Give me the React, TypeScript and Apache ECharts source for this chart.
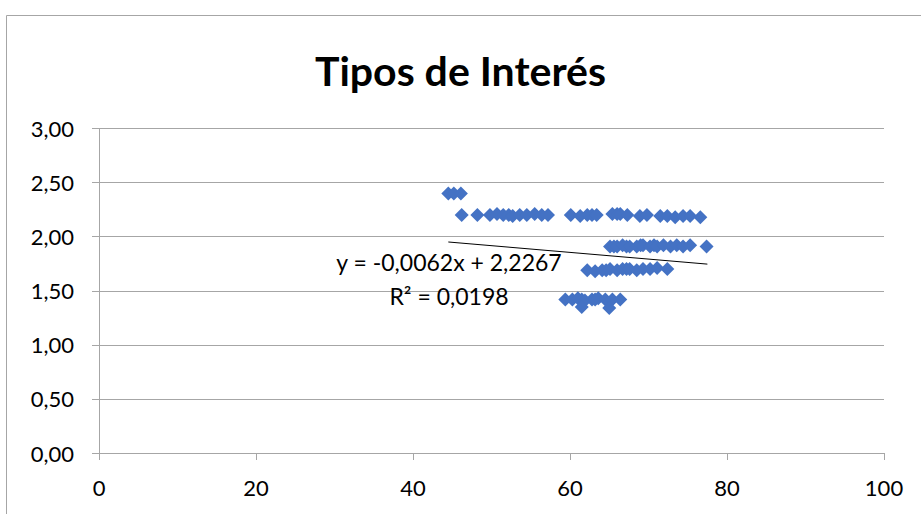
import React, { useEffect, useRef } from "react";
import * as echarts from "echarts";

// Data rows (x values per approximate interest-rate level)
const row240X = [44.5, 45.2, 46.1];
const row240Y = [2.4, 2.4, 2.4];
const row220X = [46.2, 48.2, 49.8, 50.7, 51.5, 52.2, 52.7, 53.6, 54.5, 55.5, 56.4, 57.2, 60.1, 61.3, 62.2, 62.8, 63.4, 65.4, 66.0, 66.4, 67.3, 68.9, 69.8, 71.5, 72.4, 73.4, 74.4, 75.3, 76.6];
const row220Y = [2.2, 2.2, 2.2, 2.21, 2.2, 2.2, 2.19, 2.2, 2.2, 2.21, 2.2, 2.2, 2.2, 2.19, 2.2, 2.2, 2.2, 2.21, 2.21, 2.21, 2.2, 2.19, 2.2, 2.19, 2.19, 2.18, 2.19, 2.19, 2.18];
const row192X = [65.1, 65.6, 66.0, 66.7, 67.2, 67.6, 68.5, 69.0, 69.3, 70.2, 70.7, 71.1, 71.9, 72.8, 73.6, 74.4, 75.3, 77.4];
const row192Y = [1.91, 1.91, 1.91, 1.92, 1.91, 1.91, 1.91, 1.92, 1.92, 1.91, 1.92, 1.91, 1.92, 1.91, 1.92, 1.91, 1.92, 1.91];
const row170X = [62.2, 63.2, 64.1, 64.6, 65.1, 66.0, 66.7, 67.2, 67.6, 68.5, 69.3, 70.2, 71.1, 72.4];
const row170Y = [1.69, 1.68, 1.69, 1.69, 1.7, 1.69, 1.7, 1.7, 1.7, 1.69, 1.7, 1.7, 1.71, 1.7];
const row142X = [59.4, 60.3, 61.0, 61.5, 61.9, 62.8, 63.2, 63.6, 64.5, 65.4, 66.4, 61.5, 65.0];
const row142Y = [1.42, 1.42, 1.43, 1.42, 1.41, 1.42, 1.42, 1.43, 1.42, 1.42, 1.42, 1.35, 1.34];

const yTicks = [0, 0.5, 1, 1.5, 2, 2.5, 3];
const xTicks = [0, 20, 40, 60, 80, 100];

const trendSlope = -0.0062;
const trendIntercept = 2.2267;
const trendRange = [44.5, 77.5];

const title = "Tipos de Interés";
const eqText = "y = -0,0062x + 2,2267";
const r2Text = "R² = 0,0198";

const FONT = "Lato, 'Open Sans', sans-serif";

export default function App() {
  const ref = useRef<HTMLDivElement>(null);
  useEffect(() => {
    if (!ref.current) return;
    const chart = echarts.init(ref.current, undefined, { renderer: "svg" });
    const pts: number[][] = [];
    const add = (xs: number[], ys: number[]) => xs.forEach((x, i) => pts.push([x, ys[i]]));
    add(row240X, row240Y);
    add(row220X, row220Y);
    add(row192X, row192Y);
    add(row170X, row170Y);
    add(row142X, row142Y);
    const trend = trendRange.map((x) => [x, trendIntercept + trendSlope * x]);
    chart.setOption({
      animation: false,
      backgroundColor: "#fff",
      title: {
        text: title,
        left: "center",
        top: 45,
        textStyle: { fontFamily: FONT, fontSize: 41, fontWeight: "bold", color: "#000" },
      },
      grid: { left: 99, right: 37, top: 128.5, bottom: 61, containLabel: false },
      xAxis: {
        type: "value",
        min: xTicks[0],
        max: xTicks[xTicks.length - 1],
        interval: 20,
        axisLine: { show: true, lineStyle: { color: "#A6A6A6", width: 1 } },
        axisTick: { show: true, length: 7, lineStyle: { color: "#A6A6A6" } },
        splitLine: { show: false },
        axisLabel: { margin: 23, fontFamily: FONT, fontSize: 22, color: "#000" },
      },
      yAxis: {
        type: "value",
        min: yTicks[0],
        max: yTicks[yTicks.length - 1],
        interval: 0.5,
        axisLine: { show: true, lineStyle: { color: "#A6A6A6", width: 1 } },
        axisTick: { show: true, length: 7, lineStyle: { color: "#A6A6A6" } },
        splitLine: { show: true, lineStyle: { color: "#A6A6A6", width: 1 } },
        axisLabel: {
          margin: 25,
          fontFamily: FONT,
          fontSize: 22,
          color: "#000",
          formatter: (v: number) => v.toFixed(2).replace(".", ","),
        },
      },
      series: [
        {
          type: "scatter",
          data: pts,
          symbol: "diamond",
          symbolSize: [14, 14],
          itemStyle: { color: "#4472C4", opacity: 1 },
          z: 2,
        },
        {
          type: "line",
          data: trend,
          symbol: "none",
          lineStyle: { color: "#000", width: 1 },
          z: 3,
        },
      ],
      graphic: [
        {
          type: "rect",
          shape: { x: 6.5, y: 15.5, width: 1000, height: 600 },
          style: { fill: "none", stroke: "#A6A6A6", lineWidth: 1 },
          silent: true,
        },
        {
          type: "text",
          x: 449,
          y: 262,
          style: { text: eqText, font: `23px ${FONT}`, fill: "#000", textAlign: "center", textVerticalAlign: "middle" },
          z: 10,
        },
        {
          type: "text",
          x: 449,
          y: 296,
          style: { text: r2Text, font: `23px ${FONT}`, fill: "#000", textAlign: "center", textVerticalAlign: "middle" },
          z: 10,
        },
      ],
    });
    return () => chart.dispose();
  }, []);
  return <div ref={ref} style={{ position: "absolute", left: 0, top: 0, width: 921, height: 514 }} />;
}
